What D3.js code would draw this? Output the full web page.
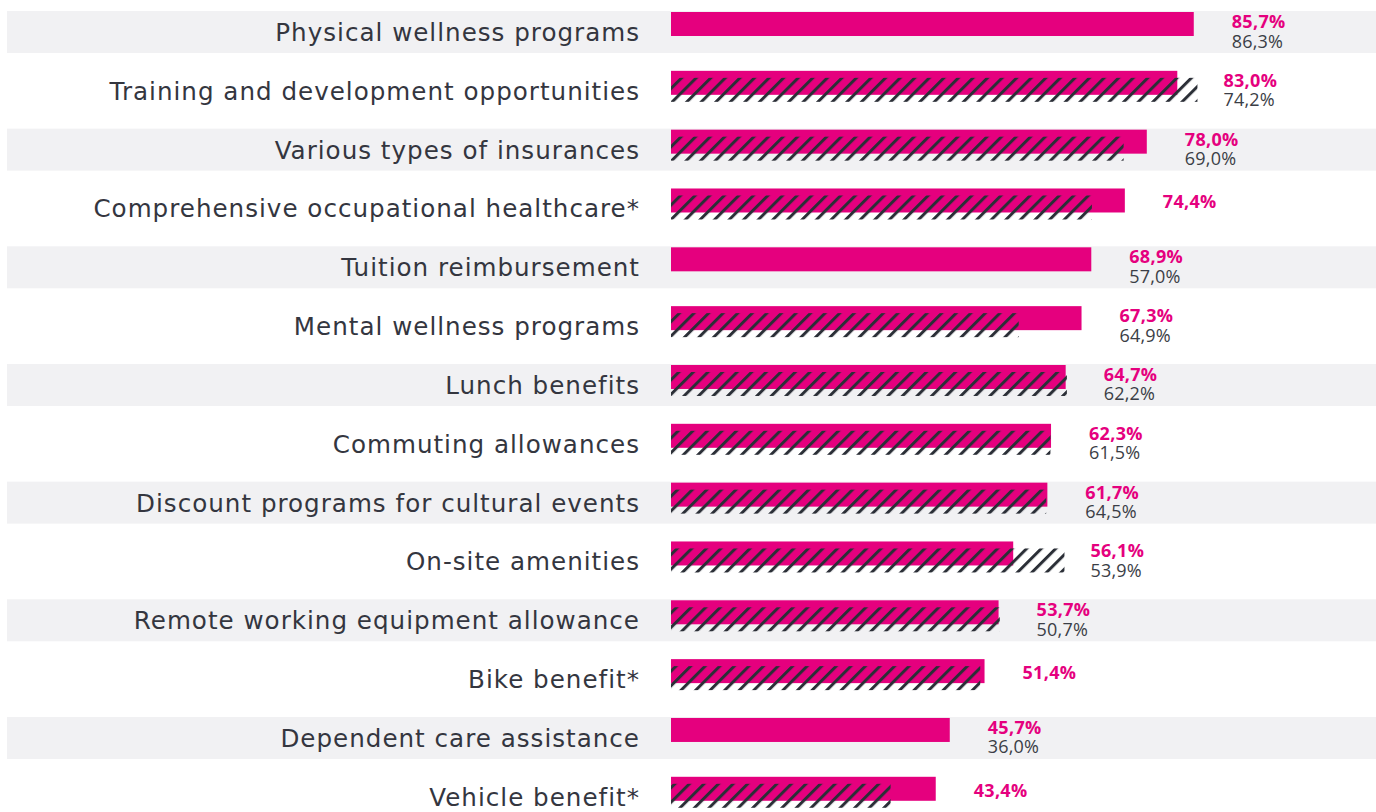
<!DOCTYPE html>
<html>
<head>
<meta charset="utf-8">
<script src="https://cdn.jsdelivr.net/npm/d3@7"></script>
<style>
  body { margin: 0; background: #fff; }
  svg { display: block; }
</style>
</head>
<body>
<div id="chart"></div>
<script>
var categories = [
  "Physical wellness programs",
  "Training and development opportunities",
  "Various types of insurances",
  "Comprehensive occupational healthcare*",
  "Tuition reimbursement",
  "Mental wellness programs",
  "Lunch benefits",
  "Commuting allowances",
  "Discount programs for cultural events",
  "On-site amenities",
  "Remote working equipment allowance",
  "Bike benefit*",
  "Dependent care assistance",
  "Vehicle benefit*"
];
var current = [85.7, 83.0, 78.0, 74.4, 68.9, 67.3, 64.7, 62.3, 61.7, 56.1, 53.7, 51.4, 45.7, 43.4];
var previous = [86.3, 74.2, 69.0, null, 57.0, 64.9, 62.2, 61.5, 64.5, 53.9, 50.7, null, 36.0, null];

var svgWidth = 1376;
var svgHeight = 812;

var pink = "#e5007e";
var dark = "#2b2f37";
var labelColor = "#34363f";
var band = "#f1f1f3";

var svg = d3.select("#chart")
  .append("svg")
  .attr("width", svgWidth)
  .attr("height", svgHeight);

// diagonal stripes for the previous-year bars
var defs = svg.append("defs");
var pattern = defs.append("pattern")
  .attr("id", "hatch")
  .attr("patternUnits", "userSpaceOnUse")
  .attr("width", 10.3)
  .attr("height", 10.3)
  .attr("patternTransform", "rotate(45)");
pattern.append("rect")
  .attr("x", 0)
  .attr("y", 0)
  .attr("width", 3)
  .attr("height", 10.3)
  .attr("fill", dark);

var x = d3.scaleLinear()
  .domain([0, 100])
  .range([671, 1281]);

var y = d3.scaleBand()
  .domain(categories)
  .range([11, 11 + categories.length * 58.83])
  .paddingInner(0);

var rows = categories.map(function(c, i) {
  return {
    name: c,
    cur: current[i],
    prev: previous[i],
    // in the source graphic the hatched bar of each row shows the row above's earlier value
    hatch: i > 0 ? previous[i - 1] : null,
    i: i
  };
});

svg.selectAll(".band")
  .data(rows.filter(function(d) { return d.i % 2 === 0; }))
  .enter()
  .append("rect")
  .attr("class", "band")
  .attr("x", 7)
  .attr("y", function(d) { return y(d.name); })
  .attr("width", svgWidth - 7)
  .attr("height", 42)
  .attr("fill", band);

svg.selectAll(".label")
  .data(rows)
  .enter()
  .append("text")
  .attr("class", "label")
  .attr("x", 640)
  .attr("y", function(d) { return y(d.name) + 30; })
  .attr("text-anchor", "end")
  .attr("font-family", "'DejaVu Sans', sans-serif")
  .attr("font-size", "24.6px")
  .attr("letter-spacing", "1px")
  .attr("fill", labelColor)
  .text(function(d) { return d.name; });

svg.selectAll(".bar")
  .data(rows)
  .enter()
  .append("rect")
  .attr("class", "bar")
  .attr("x", x(0))
  .attr("y", function(d) { return y(d.name) + 1; })
  .attr("width", function(d) { return x(d.cur) - x(0); })
  .attr("height", 24)
  .attr("fill", pink);

svg.selectAll(".hatch")
  .data(rows.filter(function(d) { return d.hatch != null; }))
  .enter()
  .append("rect")
  .attr("class", "hatch")
  .attr("x", x(0))
  .attr("y", function(d) { return y(d.name) + 8; })
  .attr("width", function(d) { return x(d.hatch) - x(0); })
  .attr("height", 24)
  .attr("fill", "url(#hatch)");

function textX(d) {
  var px = x(d.cur) + 38;
  if (d.hatch != null) px = Math.max(px, x(d.hatch) + 26);
  return px;
}

svg.selectAll(".val")
  .data(rows)
  .enter()
  .append("text")
  .attr("class", "val")
  .attr("x", textX)
  .attr("y", function(d) { return y(d.name) + (d.prev != null ? 17 : 21); })
  .attr("font-family", "'Open Sans', sans-serif")
  .attr("font-weight", 700)
  .attr("font-size", "18px")
  .attr("letter-spacing", "0.3px")
  .attr("fill", pink)
  .text(function(d) { return d.cur.toFixed(1).replace(".", ",") + "%"; });

svg.selectAll(".prev")
  .data(rows.filter(function(d) { return d.prev != null; }))
  .enter()
  .append("text")
  .attr("class", "prev")
  .attr("x", textX)
  .attr("y", function(d) { return y(d.name) + 36.5; })
  .attr("font-family", "'Open Sans', sans-serif")
  .attr("font-size", "18px")
  .attr("letter-spacing", "0.2px")
  .attr("fill", "#3b3e46")
  .text(function(d) { return d.prev.toFixed(1).replace(".", ",") + "%"; });
</script>
</body>
</html>
